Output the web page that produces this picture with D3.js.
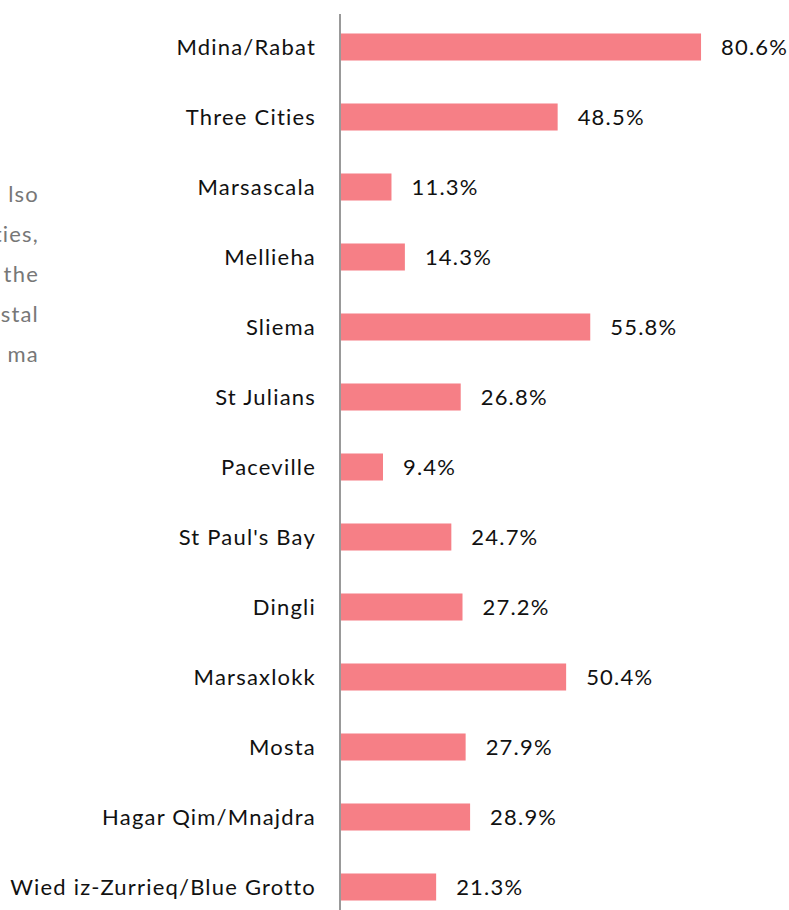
<!DOCTYPE html>
<html>
<head>
<meta charset="utf-8">
<script src="https://cdn.jsdelivr.net/npm/d3@7"></script>
<style>
  body { margin: 0; background: #fff; }
  svg { display: block; }
  text { font-family: Lato, "Open Sans", sans-serif; font-size: 22px; letter-spacing: 1.2px; }
</style>
</head>
<body>
<svg width="789" height="910"></svg>
<script>
// places and share of respondents (%)
var places = ["Mdina/Rabat", "Three Cities", "Marsascala", "Mellieha", "Sliema", "St Julians",
    "Paceville", "St Paul's Bay", "Dingli", "Marsaxlokk", "Mosta", "Hagar Qim/Mnajdra",
    "Wied iz-Zurrieq/Blue Grotto"];
var shares = [80.6, 48.5, 11.3, 14.3, 55.8, 26.8, 9.4, 24.7, 27.2, 50.4, 27.9, 28.9, 21.3];

// fragment of body text clipped at the left edge
var sideText = ["lso", "ties,", "the", "stal", "ma"];

var svg = d3.select("svg"),
    width = +svg.attr("width"),
    height = +svg.attr("height");

var axisX = 340;

var x = d3.scaleLinear()
    .domain([0, 100])
    .range([axisX + 1, axisX + 1 + 446.7]);

var y = d3.scaleBand()
    .domain(places)
    .range([12, 12 + 70 * places.length])
    .paddingInner(0.614)
    .paddingOuter(0.307);

// clipped paragraph on the left
svg.append("g")
    .selectAll("text")
    .data(sideText)
    .enter().append("text")
        .attr("x", 39)
        .attr("y", function(d, i) { return 202 + i * 40; })
        .attr("text-anchor", "end")
        .attr("fill", "#777")
        .text(function(d) { return d; });

var bars = svg.append("g").attr("class", "bars");

bars.selectAll("rect")
    .data(shares)
    .enter().append("rect")
        .attr("x", x(0))
        .attr("y", function(d, i) { return y(places[i]); })
        .attr("width", function(d) { return x(d) - x(0); })
        .attr("height", y.bandwidth())
        .attr("fill", "#f67f86");

// value labels
bars.selectAll("text.value")
    .data(shares)
    .enter().append("text")
        .attr("class", "value")
        .attr("x", function(d) { return x(d) + 20; })
        .attr("y", function(d, i) { return y(places[i]) + y.bandwidth() / 2; })
        .attr("dy", "0.36em")
        .attr("fill", "#111")
        .text(function(d) { return d.toFixed(1) + "%"; });

// category labels
svg.append("g")
    .selectAll("text")
    .data(places)
    .enter().append("text")
        .attr("x", axisX - 24)
        .attr("y", function(d) { return y(d) + y.bandwidth() / 2; })
        .attr("dy", "0.36em")
        .attr("text-anchor", "end")
        .attr("fill", "#111")
        .text(function(d) { return d; });

// vertical axis line
svg.append("line")
    .attr("x1", axisX).attr("x2", axisX)
    .attr("y1", 14).attr("y2", height)
    .attr("stroke", "#999")
    .attr("stroke-width", 2);
</script>
</body>
</html>
